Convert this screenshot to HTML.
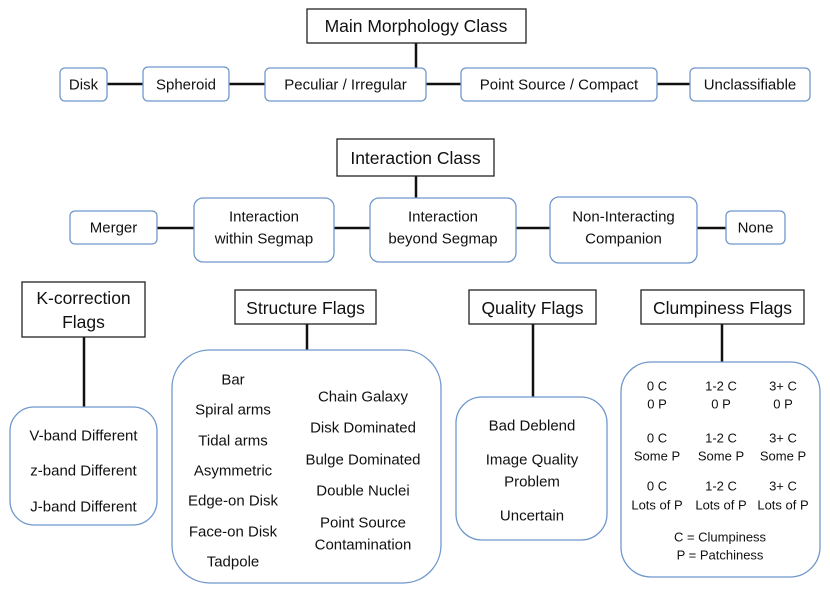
<!DOCTYPE html>
<html><head><meta charset="utf-8"><style>
html,body{margin:0;padding:0;background:#fff}
svg{display:block}
text{font-family:"Liberation Sans",sans-serif;fill:#111;text-anchor:middle;dominant-baseline:central}
.s{font-size:15px}
.h{font-size:17.5px}
.b{fill:#fff;stroke:#6f98cc;stroke-width:1.3}
.k{fill:#fff;stroke:#222;stroke-width:1.3}
.l{stroke:#111;stroke-width:2.5}
</style></head><body>
<svg width="830" height="597" viewBox="0 0 830 597">
<line class="l" x1="416" y1="43" x2="416" y2="68"/>
<line class="l" x1="107" y1="84" x2="690" y2="84"/>
<rect class="k" x="307" y="9" width="219" height="34"/>
<text class="h" x="416" y="26">Main Morphology Class</text>
<rect class="b" x="60" y="68" width="47" height="33" rx="5"/><text class="s" x="83.5" y="85">Disk</text>
<rect class="b" x="143" y="67" width="86" height="34" rx="5"/><text class="s" x="186" y="85">Spheroid</text>
<rect class="b" x="265" y="68" width="161" height="33" rx="5"/><text class="s" x="345.5" y="85">Peculiar / Irregular</text>
<rect class="b" x="461" y="68" width="196" height="33" rx="5"/><text class="s" x="559" y="85">Point Source / Compact</text>
<rect class="b" x="690" y="68" width="120" height="33" rx="5"/><text class="s" x="750" y="85">Unclassifiable</text>
<line class="l" x1="416" y1="176" x2="416" y2="198"/>
<line class="l" x1="157" y1="228" x2="726" y2="228"/>
<rect class="k" x="337" y="139" width="157" height="37"/>
<text class="h" x="415.5" y="158">Interaction Class</text>
<rect class="b" x="70" y="211" width="87" height="33" rx="5"/><text class="s" x="113.5" y="228">Merger</text>
<rect class="b" x="194" y="198" width="140" height="64" rx="9"/><text class="s" x="264" y="217">Interaction</text><text class="s" x="264" y="239">within Segmap</text>
<rect class="b" x="370" y="198" width="146" height="64" rx="9"/><text class="s" x="443" y="217">Interaction</text><text class="s" x="443" y="239">beyond Segmap</text>
<rect class="b" x="550" y="197" width="147" height="66" rx="9"/><text class="s" x="623.5" y="217">Non-Interacting</text><text class="s" x="623.5" y="239">Companion</text>
<rect class="b" x="726" y="211" width="59" height="33" rx="5"/><text class="s" x="755.5" y="228">None</text>
<line class="l" x1="84" y1="337" x2="84" y2="407"/>
<rect class="k" x="22" y="282" width="123" height="55"/>
<text class="h" x="83.5" y="298">K-correction</text><text class="h" x="83.5" y="322">Flags</text>
<rect class="b" x="10" y="407" width="147" height="118" rx="24"/>
<text class="s" x="83.5" y="436">V-band Different</text>
<text class="s" x="83.5" y="471">z-band Different</text>
<text class="s" x="83.5" y="507">J-band Different</text>
<line class="l" x1="307" y1="324" x2="307" y2="350"/>
<rect class="k" x="235" y="290" width="141" height="34"/>
<text class="h" x="305.5" y="308">Structure Flags</text>
<rect class="b" x="172" y="350" width="269" height="233" rx="38"/>
<text class="s" x="233" y="380">Bar</text>
<text class="s" x="233" y="410">Spiral arms</text>
<text class="s" x="233" y="441">Tidal arms</text>
<text class="s" x="233" y="471">Asymmetric</text>
<text class="s" x="233" y="501">Edge-on Disk</text>
<text class="s" x="233" y="532">Face-on Disk</text>
<text class="s" x="233" y="562">Tadpole</text>
<text class="s" x="363" y="397">Chain Galaxy</text>
<text class="s" x="363" y="428">Disk Dominated</text>
<text class="s" x="363" y="460">Bulge Dominated</text>
<text class="s" x="363" y="491">Double Nuclei</text>
<text class="s" x="363" y="523">Point Source</text>
<text class="s" x="363" y="545">Contamination</text>
<line class="l" x1="533" y1="324" x2="533" y2="397"/>
<rect class="k" x="469" y="290" width="127" height="34"/>
<text class="h" x="532.5" y="308">Quality Flags</text>
<rect class="b" x="456" y="397" width="151" height="143" rx="26"/>
<text class="s" x="532" y="426">Bad Deblend</text>
<text class="s" x="532" y="460">Image Quality</text>
<text class="s" x="532" y="482">Problem</text>
<text class="s" x="532" y="516">Uncertain</text>
<line class="l" x1="722" y1="324" x2="722" y2="362"/>
<rect class="k" x="641" y="290" width="163" height="34"/>
<text class="h" x="722.5" y="308">Clumpiness Flags</text>
<rect class="b" x="621" y="362" width="199" height="215" rx="30"/>
<g class="s" style="font-size:13px">
<text x="657" y="386">0 C</text><text x="657" y="404">0 P</text>
<text x="721" y="386">1-2 C</text><text x="721" y="404">0 P</text>
<text x="783" y="386">3+ C</text><text x="783" y="404">0 P</text>
<text x="657" y="438">0 C</text><text x="657" y="456">Some P</text>
<text x="721" y="438">1-2 C</text><text x="721" y="456">Some P</text>
<text x="783" y="438">3+ C</text><text x="783" y="456">Some P</text>
<text x="657" y="486">0 C</text><text x="657" y="505">Lots of P</text>
<text x="721" y="486">1-2 C</text><text x="721" y="505">Lots of P</text>
<text x="783" y="486">3+ C</text><text x="783" y="505">Lots of P</text>
<text x="720" y="537">C = Clumpiness</text>
<text x="720" y="555">P = Patchiness</text>
</g>
</svg>
</body></html>
